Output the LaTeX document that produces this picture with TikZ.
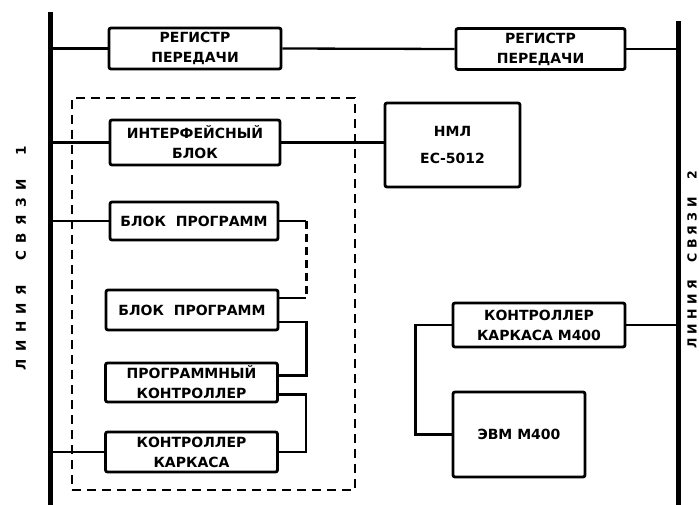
\documentclass[tikz,border=0pt]{standalone}
\usepackage{fontspec}
\setmainfont{DejaVu Sans}
\newfontfamily\spacedfont[LetterSpace=55]{DejaVu Sans}
\newfontfamily\spacedfontb[LetterSpace=35]{DejaVu Sans}

\begin{document}
\begin{tikzpicture}[
    x=1pt, y=-1pt,
    box/.style={rectangle, draw, rounded corners=2pt, line width=2.8pt, minimum width=172pt, minimum height=41pt, align=center, inner sep=2pt, font=\fontsize{14}{20}\selectfont\bfseries},
    link/.style={line width=2.3pt},
    bus/.style={line width=5pt},
    group/.style={draw, line width=2pt, dash pattern=on 9pt off 6pt, minimum width=283pt, minimum height=392pt},
    buslabel/.style={rotate=90, font=\spacedfont\bfseries\fontsize{13.5}{15}\selectfont},
]
\useasboundingbox (0,0) rectangle (699,505);

% линии связи
\coordinate (b1top) at (50,12);
\coordinate (b1bot) at (50,505);
\coordinate (b2top) at (678,21);
\coordinate (b2bot) at (678,505);
\draw[bus] (b1top) -- (b1bot);
\draw[bus] (b2top) -- (b2bot);
\node[buslabel] (lbl1) at (21,258) {ЛИНИЯ\ \ СВЯЗИ\ \ 1};
\node[buslabel, font=\spacedfontb\bfseries\fontsize{12.5}{14}\selectfont] (lbl2) at (692,260) {ЛИНИЯ\ \ СВЯЗИ\ \ 2};

% регистры передачи
\node[box] (reg1) at (195,48.5) {РЕГИСТР\\ПЕРЕДАЧИ};
\node[box, minimum width=169pt] (reg2) at (540.5,49) {РЕГИСТР\\ПЕРЕДАЧИ};

% группа блоков
\node[group] (grp) at (213.5,294) {};
\node[box, minimum width=170pt, minimum height=45pt] (iface) at (195,142.5) {ИНТЕРФЕЙСНЫЙ\\БЛОК};
\node[box, minimum width=168pt, minimum height=38pt] (bp1) at (194,221) {БЛОК\ \ ПРОГРАММ};
\node[box, minimum height=40pt] (bp2) at (192,310) {БЛОК\ \ ПРОГРАММ};
\node[box, minimum height=39pt] (pk) at (191.5,382.5) {ПРОГРАММНЫЙ\\КОНТРОЛЛЕР};
\node[box, minimum height=40pt] (kk) at (191.5,452) {КОНТРОЛЛЕР\\КАРКАСА};

% внешние устройства
\node[box, minimum width=135pt, minimum height=84pt] (nml) at (452.5,145) {НМЛ\\[7pt]ЕС-5012};
\node[box, minimum height=44pt] (kkm) at (539,325) {КОНТРОЛЛЕР\\КАРКАСА М400};
\node[box, minimum width=132pt, minimum height=85pt] (evm) at (519,434.5) {ЭВМ М400};

% связи
\draw[link] (reg1.west) -- (reg1.west -| b1top);
\draw[link] (reg1.east) -- (reg2.west);
\draw[link] (reg2.east) -- (reg2.east -| b2top);
\draw[link] (iface.west) -- (iface.west -| b1top);
\draw[link] (iface.east) -- (iface.east -| nml.west);
\draw[link] (bp1.west) -- (bp1.west -| b1top);
\draw[link] (kk.west) -- (kk.west -| b1top);
\draw[link] (kkm.east) -- (kkm.east -| b2top);
\draw[link] (bp1.east) -- ++(27,0) coordinate (c1);
\draw[link] ([yshift=12pt]bp2.east) -- ++(27,0) coordinate (c2);
\draw[link, dash pattern=on 8pt off 5pt] (c1) -- (c2);
\draw[link] ([yshift=-12pt]bp2.east) -- ++(27,0) |- ([yshift=7pt]pk.east);
\draw[link] ([yshift=-12pt]pk.east) -- ++(27,0) |- (kk.east);
\draw[link] (kkm.west) -- ++(-36,0) |- (evm.west);

\end{tikzpicture}
\end{document}
